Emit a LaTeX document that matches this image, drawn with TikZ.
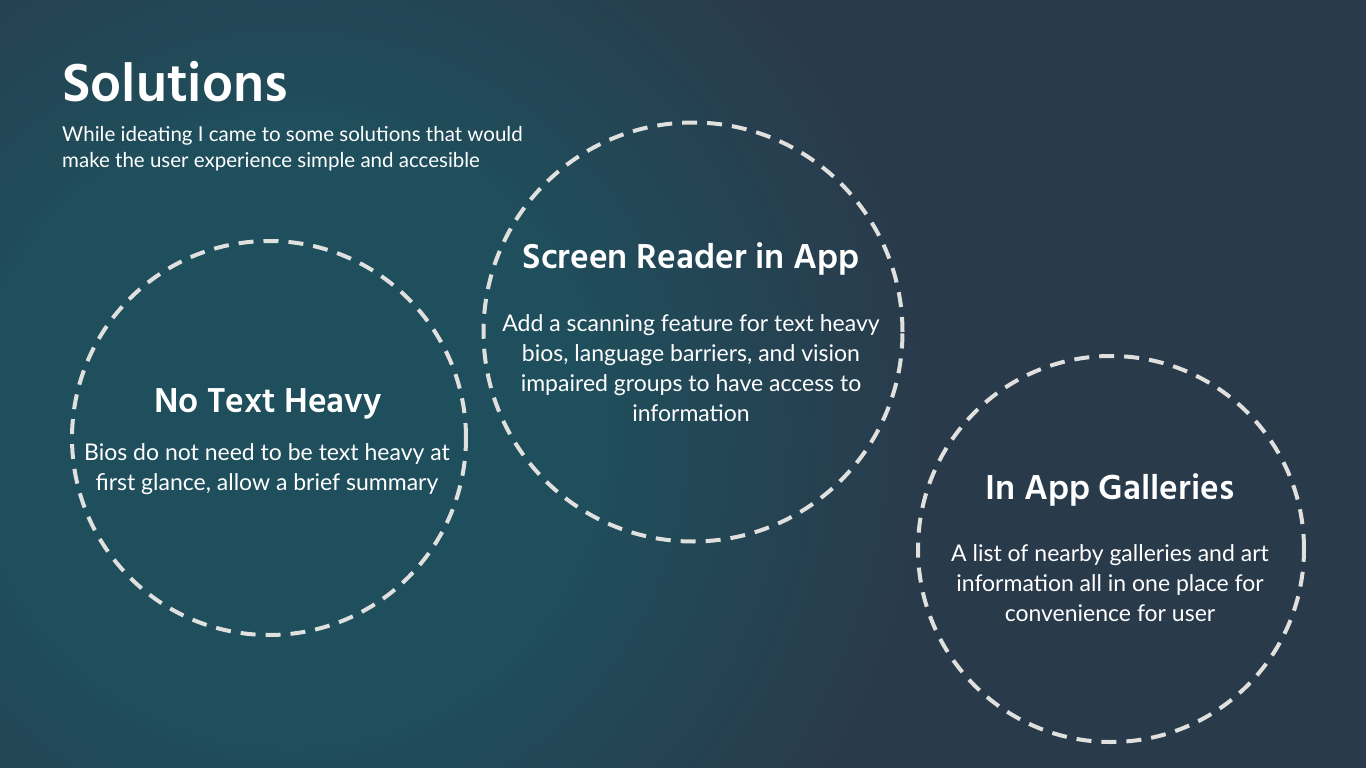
\documentclass[tikz,border=0pt]{standalone}
\usepackage{fontspec}
\usepackage{xcolor}
\usepackage{tikz}
\usetikzlibrary{positioning}
\setmainfont{Lato}
\newfontfamily\headfont{Hind Siliguri}
\definecolor{slnTeal}{RGB}{31,79,92}
\definecolor{slnSlate}{RGB}{41,58,75}
\definecolor{slnRing}{RGB}{224,224,222}

\begin{document}
\begin{tikzpicture}[x=1pt,y=-1pt,
  ring/.style={circle, draw=slnRing, line width=4pt, dash pattern=on 15pt off 10pt, inner sep=0pt},
  heading/.style={text=white, font=\headfont\bfseries\fontsize{35.5}{40}\selectfont, inner sep=0pt},
  body/.style={text=white, align=center, font=\fontsize{23}{30}\selectfont, inner sep=0pt}]
\useasboundingbox (0,0) rectangle (1366,768);
\fill[slnSlate] (0,0) rectangle (1366,768);
% teal glow on the left
\begin{scope}
\clip (0,0) rectangle (1366,768);
\foreach \i in {0,...,35}{
  \pgfmathsetmacro{\glowr}{650-10*\i}
  \pgfmathsetmacro{\glowp}{100*\i/35}
  \fill[slnTeal!\glowp!slnSlate] (290,430) circle[radius=\glowr pt];
}
\end{scope}
% title block
\node[anchor=base west, text=white, inner sep=0pt, font=\headfont\bfseries\fontsize{55}{60}\selectfont] (title) at (62,101) {Solutions};
\node[anchor=base west, text=white, inner sep=0pt, align=left, font=\fontsize{20.5}{26}\selectfont] (subtitle) at (62,167) {While ideating I came to some solutions that would\\make the user experience simple and accesible};
% rings
\node[ring, minimum size=394pt] (textring) at (269,438) {};
\node[ring, minimum size=419pt] (readerring) at (693,332) {};
\node[ring, minimum size=386pt] (galleryring) at (1111,549) {};
% ring texts
\node[heading] (textHead) at (268,404) {No Text Heavy};
\node[body] (textBody) at (267,469) {Bios do not need to be text heavy at\\first glance, allow a brief summary};
\node[heading] (readerHead) at (691,259) {Screen Reader in App};
\node[body] (readerBody) at (691,368) {Add a scanning feature for text heavy\\bios, language barriers, and vision\\impaired groups to have access to\\information};
\node[heading] (galleryHead) at (1110,490) {In App Galleries};
\node[body] (galleryBody) at (1110,583) {A list of nearby galleries and art\\information all in one place for\\convenience for user};
\end{tikzpicture}
\end{document}
